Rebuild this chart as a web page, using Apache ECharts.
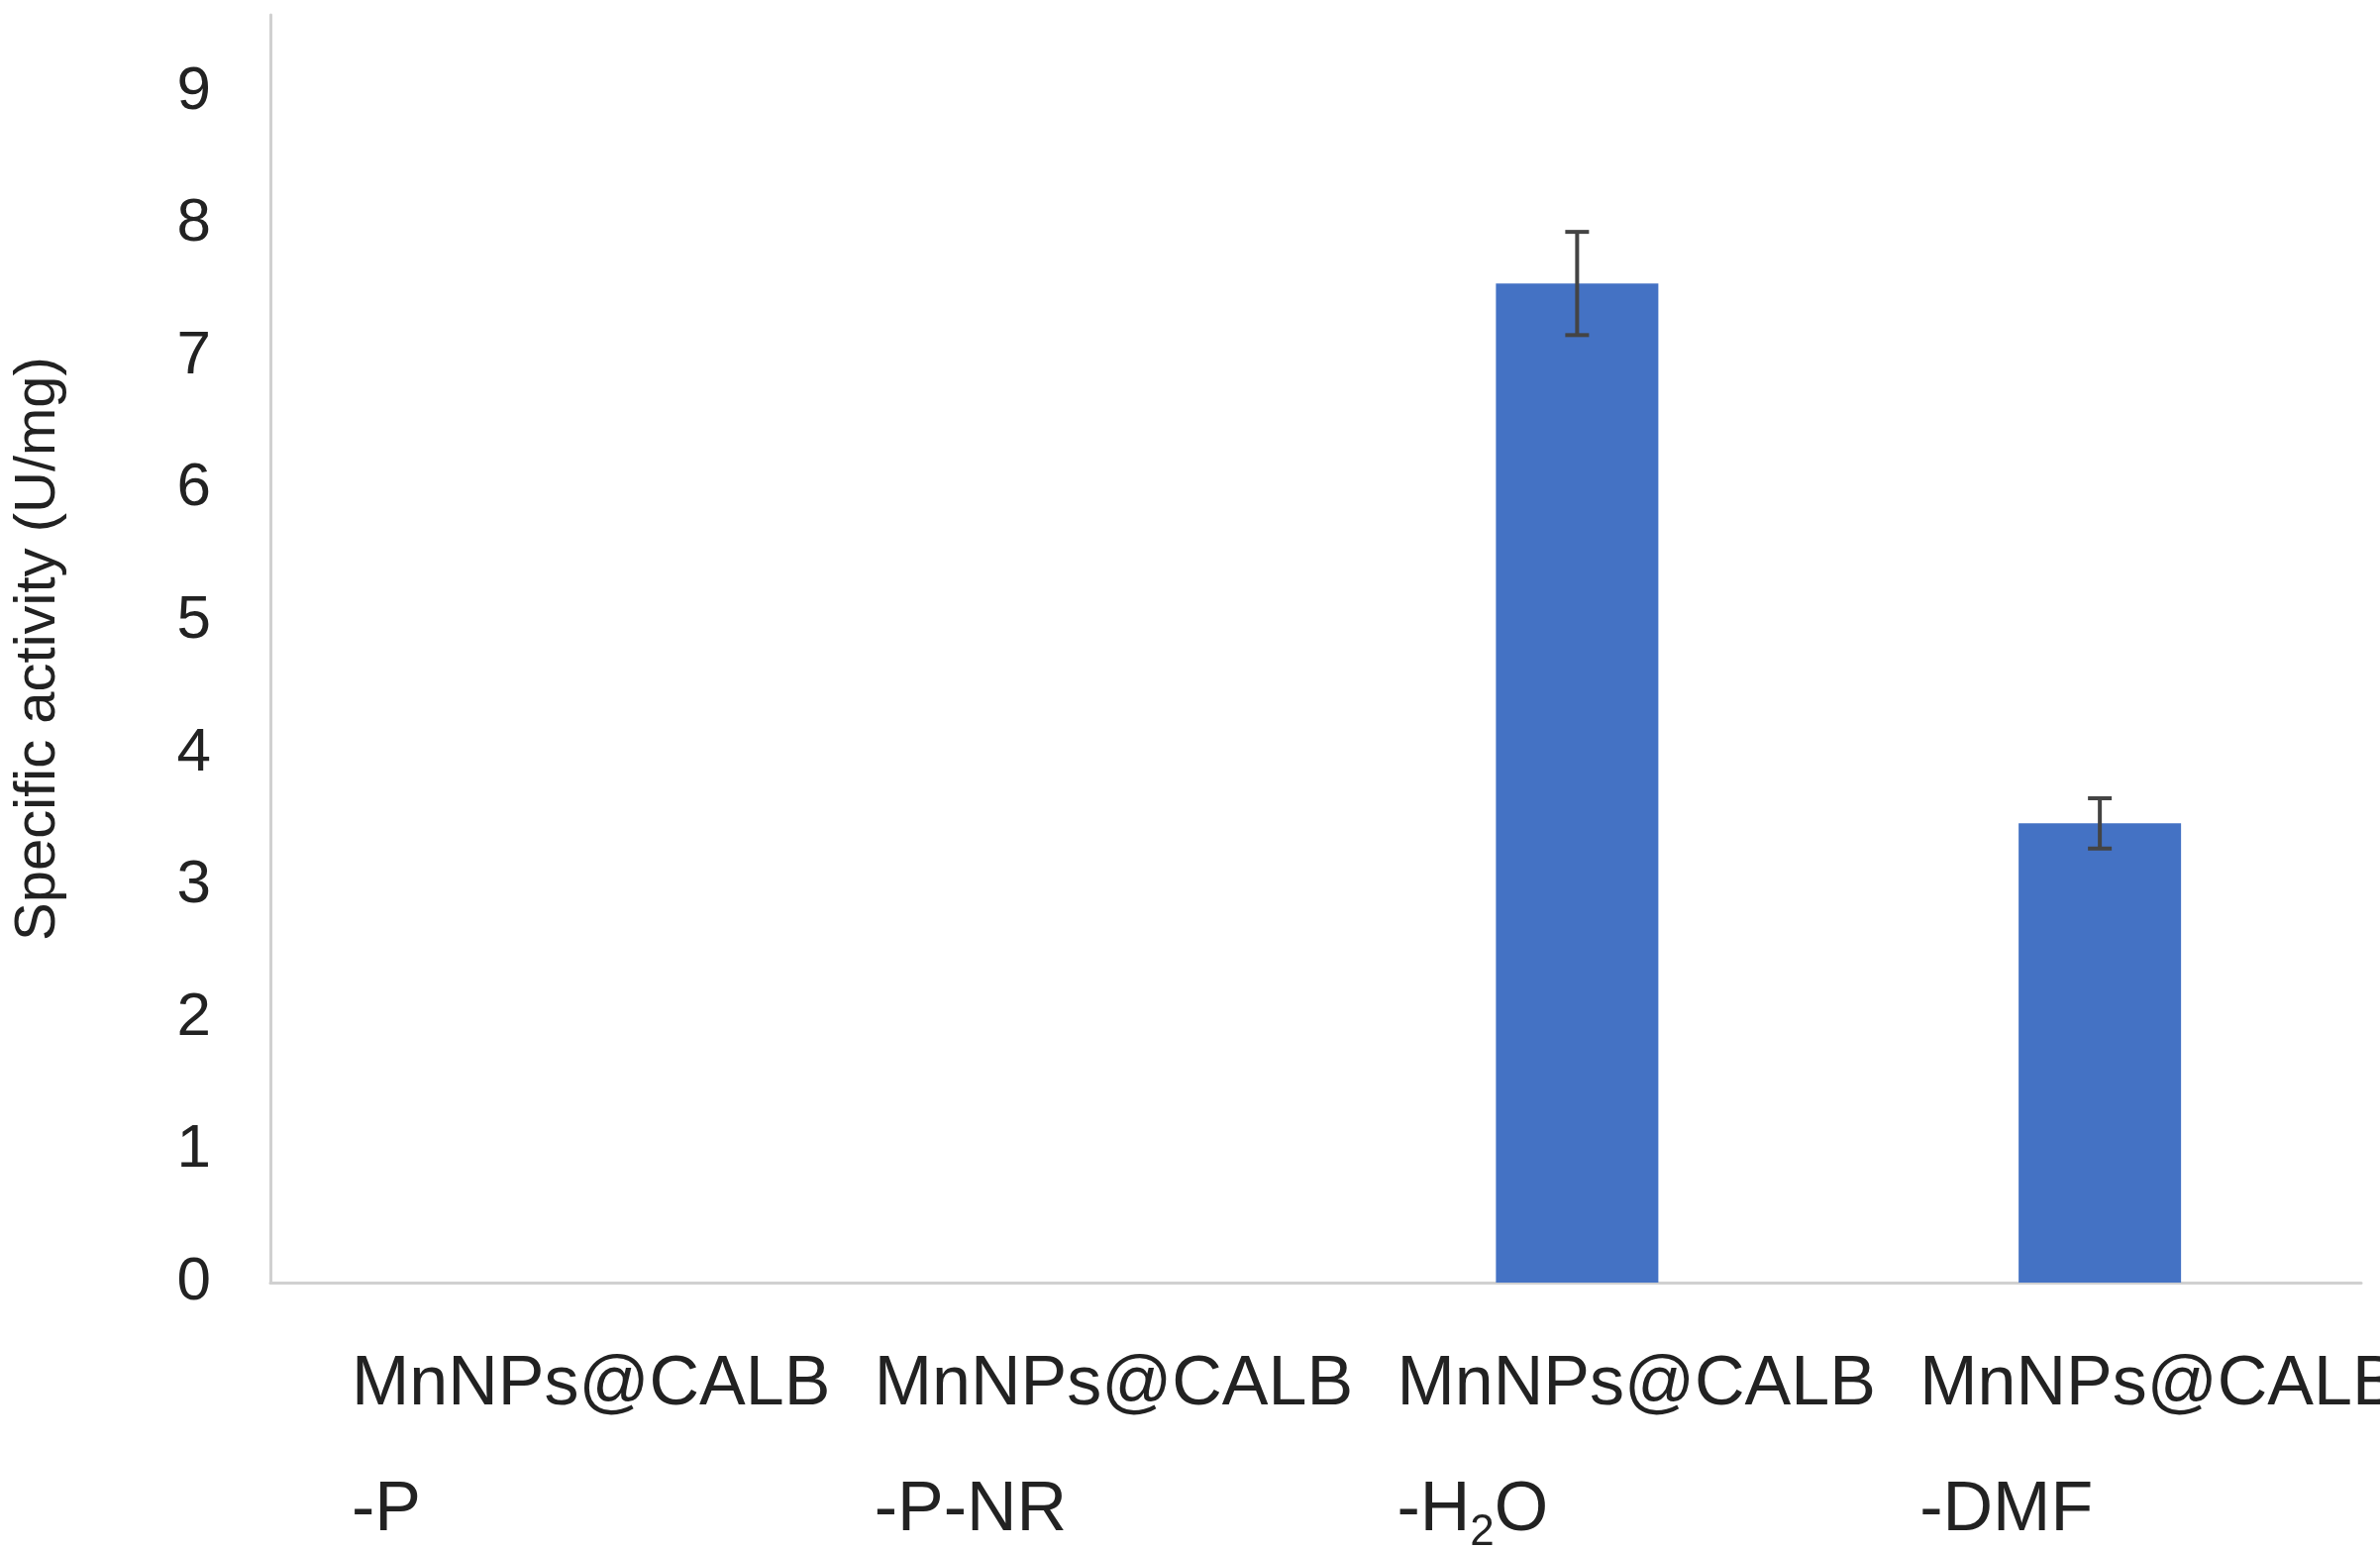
<!DOCTYPE html>
<html>
<head>
<meta charset="utf-8">
<script src="https://cdn.jsdelivr.net/npm/echarts@6/dist/echarts.min.js"></script>
<style>html,body{margin:0;padding:0;background:#fff}#chart{width:2403px;height:1565px}</style>
</head>
<body>
<div id="chart"></div>
<script>
var categories = ['MnNPs@CALB\n-P', 'MnNPs@CALB\n-P-NR', 'MnNPs@CALB\n-H2O', 'MnNPs@CALB\n-DMF'];
var values = [0, 0, 7.55, 3.47];
var errors = [0, 0, 0.39, 0.19];
var yTicks = [0, 1, 2, 3, 4, 5, 6, 7, 8, 9];

var chart = echarts.init(document.getElementById('chart'));
var font = 'Liberation Sans, Arial, sans-serif';

function labelFmt(v) {
  if (!v) return '';
  var parts = v.split('\n');
  var second = parts[1] === '-H2O' ? '{t|-H}{s|2}{t|O}' : '{t|' + parts[1] + '}';
  return '{t|' + parts[0] + '}\n' + second;
}

chart.setOption({
  animation: false,
  grid: { left: 273, right: 19, top: 15, bottom: 270, outerBoundsMode: 'none' },
  xAxis: [{
    type: 'category',
    data: categories,
    axisLine: { lineStyle: { color: '#d0d0d0', width: 3 } },
    axisTick: { show: false },
    axisLabel: { show: false }
  }, {
    type: 'category',
    position: 'bottom',
    boundaryGap: false,
    data: categories.concat(['']),
    axisLine: { show: false },
    axisTick: { show: false },
    axisLabel: {
      margin: 40,
      align: 'left',
      padding: [0, 0, 0, 82],
      interval: 0,
      formatter: labelFmt,
      rich: {
        t: { fontFamily: font, fontSize: 70, color: '#222', lineHeight: 127 },
        s: { fontFamily: font, fontSize: 44, color: '#222', lineHeight: 127, verticalAlign: 'middle', padding: [44, 0, 0, 0] }
      }
    }
  }],
  yAxis: {
    type: 'value',
    min: 0,
    max: 9.58,
    interval: 1,
    name: 'Specific activity (U/mg)',
    nameLocation: 'middle',
    nameGap: 205,
    nameTextStyle: { fontFamily: font, fontSize: 58, color: '#222' },
    axisLine: { show: true, lineStyle: { color: '#d0d0d0', width: 3 } },
    splitLine: { show: false },
    axisTick: { show: false },
    axisLabel: {
      margin: 60,
      fontFamily: font, fontSize: 62, color: '#222',
      formatter: function (v) { return yTicks.indexOf(v) >= 0 ? String(v) : ''; }
    }
  },
  series: [{
    type: 'bar',
    data: values,
    barWidth: 164,
    itemStyle: { color: '#4472C4' }
  }, {
    type: 'custom',
    data: values.map(function (v, i) { return [i, v, errors[i]]; }),
    renderItem: function (params, api) {
      if (api.value(2) <= 0) return null;
      var lo = api.coord([api.value(0), api.value(1) - api.value(2)]);
      var hi = api.coord([api.value(0), api.value(1) + api.value(2)]);
      var w = 12;
      var st = { stroke: '#444', lineWidth: 4 };
      return { type: 'group', children: [
        { type: 'line', shape: { x1: lo[0], y1: lo[1], x2: hi[0], y2: hi[1] }, style: st },
        { type: 'line', shape: { x1: lo[0] - w, y1: lo[1], x2: lo[0] + w, y2: lo[1] }, style: st },
        { type: 'line', shape: { x1: hi[0] - w, y1: hi[1], x2: hi[0] + w, y2: hi[1] }, style: st }
      ]};
    },
    z: 5
  }]
});
</script>
</body>
</html>
